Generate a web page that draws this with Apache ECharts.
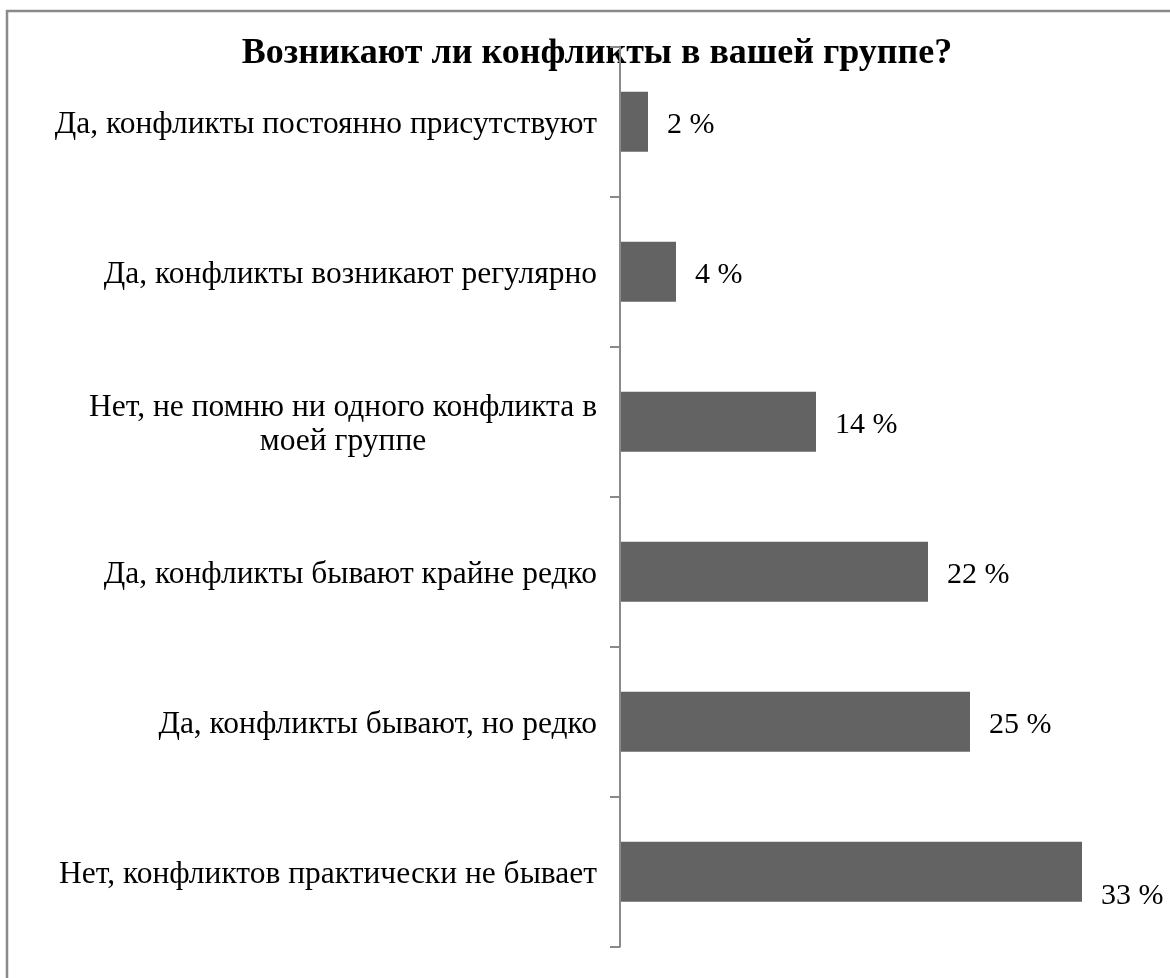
<!DOCTYPE html>
<html>
<head>
<meta charset="utf-8">
<script src="https://cdn.jsdelivr.net/npm/echarts@6/dist/echarts.min.js"></script>
<style>
  html, body { margin: 0; padding: 0; background: #ffffff; }
  #chart { width: 1170px; height: 978px; }
</style>
</head>
<body>
<div id="chart"></div>
<script>
// Survey: "Do conflicts arise in your group?" — share of answers, %
const titleText = 'Возникают ли конфликты в вашей группе?';
const categories = [
  'Да, конфликты постоянно присутствуют',
  'Да, конфликты возникают регулярно',
  'Нет, не помню ни одного конфликта в\nмоей группе',
  'Да, конфликты бывают крайне редко',
  'Да, конфликты бывают, но редко',
  'Нет, конфликтов практически не бывает'
];
const values = [2, 4, 14, 22, 25, 33];

const serif = '"Liberation Serif", "Times New Roman", serif';

const chart = echarts.init(document.getElementById('chart'), null, { renderer: 'canvas' });

// the longest bar's label would run past the frame, so it is dropped below the bar end
const maxValue = Math.max(...values);
const seriesData = values.map(v => {
  const item = { value: v };
  if (v === maxValue) {
    item.label = { offset: [0, 24] };
  }
  return item;
});

chart.setOption({
  animation: false,
  backgroundColor: '#ffffff',
  title: {
    text: titleText,
    left: 592,
    textAlign: 'center',
    top: 31,
    z: 0,
    textStyle: {
      fontFamily: serif,
      fontWeight: 'bold',
      fontSize: 36,
      color: '#000000'
    }
  },
  graphic: [{
    type: 'rect',
    shape: { x: 7, y: 11, width: 1200, height: 1000 },
    style: { fill: 'none', stroke: '#8a8a8a', lineWidth: 2.5 },
    silent: true,
    z: -1
  }],
  grid: {
    left: 620,
    right: 60,
    top: 46.7,
    bottom: 31.3,
    containLabel: false
  },
  xAxis: {
    type: 'value',
    min: 0,
    max: 35,
    show: false,
    splitLine: { show: false }
  },
  yAxis: {
    type: 'category',
    data: categories,
    inverse: true,
    z: 10,
    axisLine: { show: true, lineStyle: { color: '#8a8a8a', width: 2 } },
    axisTick: { show: true, length: 10, lineStyle: { color: '#8a8a8a', width: 2 } },
    axisLabel: {
      margin: 23,
      color: '#000000',
      fontFamily: serif,
      fontSize: 31.5,
      padding: [7, 0, 0, 0],
      formatter: function (txt) {
        return txt.split('\n').map(s => '{c|' + s + '}').join('\n');
      },
      rich: {
        c: {
          align: 'center',
          fontFamily: serif,
          fontSize: 31.5,
          lineHeight: 34,
          color: '#000000'
        }
      }
    }
  },
  series: [{
    type: 'bar',
    data: seriesData,
    barWidth: '40%',
    itemStyle: { color: '#636363' },
    label: {
      show: true,
      position: 'right',
      distance: 19,
      offset: [0, 3],
      formatter: '{c} %',
      fontFamily: serif,
      fontSize: 30,
      color: '#000000'
    }
  }]
});
</script>
</body>
</html>
